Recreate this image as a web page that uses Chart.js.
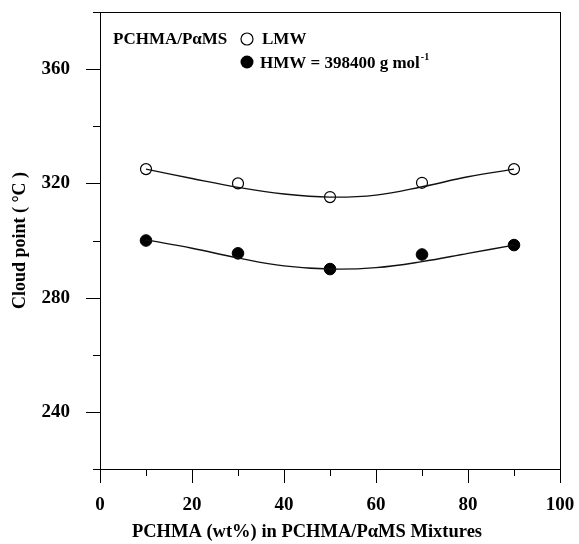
<!DOCTYPE html>
<html>
<head>
<meta charset="utf-8">
<script src="https://cdn.jsdelivr.net/npm/chart.js@4"></script>
<style>
  html, body { margin: 0; padding: 0; background: #fff; }
  #wrap { width: 579px; height: 544px; }
</style>
</head>
<body>
<div id="wrap"><canvas id="chart" width="579" height="544"></canvas></div>
<script>
// PCHMA content (wt%) of the measured blends
const composition = [10, 30, 50, 70, 90];
const lmwCloud = [325, 320, 315.2, 320.2, 325];
const hmwCloud = [300, 295.5, 290, 295.1, 298.4];

// fitted curves
const fitX = [10, 20, 30, 40, 50, 60, 70, 80, 90];
const lmwFit = [325, 321.7, 318.6, 316.3, 315.2, 315.9, 318.8, 322.3, 325];
const hmwFit = [300.2, 297.3, 293.9, 291.1, 290, 290.5, 292.6, 295.5, 298.4];

const xLabels = [0, 20, 40, 60, 80, 100];
const yLabels = [240, 280, 320, 360];

const serif = "'Liberation Serif', 'DejaVu Serif', serif";

const toPoints = (xs, ys) => xs.map((x, i) => ({ x: x, y: ys[i] }));

// frame + ticks drawn by hand: major/minor ticks have different lengths
const framePlugin = {
  id: 'frame',
  afterDraw(chart) {
    const { ctx, chartArea: a, scales } = chart;
    ctx.save();
    ctx.strokeStyle = '#000';
    ctx.lineWidth = 1;
    ctx.strokeRect(a.left + 0.5, a.top + 0.5, a.right - a.left, a.bottom - a.top);

    ctx.beginPath();
    for (let v = 0; v <= 100; v += 10) {
      const px = Math.round(scales.x.getPixelForValue(v)) + 0.5;
      const len = xLabels.includes(v) ? 14 : 7;
      ctx.moveTo(px, a.bottom);
      ctx.lineTo(px, a.bottom + len);
    }
    for (let v = 220; v <= 380; v += 20) {
      const py = Math.round(scales.y.getPixelForValue(v)) + 0.5;
      const len = yLabels.includes(v) ? 14 : 7;
      ctx.moveTo(a.left, py);
      ctx.lineTo(a.left - len, py);
    }
    ctx.stroke();

    ctx.fillStyle = '#000';
    ctx.textBaseline = 'alphabetic';

    // x axis title sits a bit left of the plot centre in the original
    ctx.font = "bold 18.5px " + serif;
    ctx.textAlign = 'center';
    ctx.fillText('PCHMA (wt%) in PCHMA/P\u03b1MS Mixtures', 307, 537);
    ctx.textAlign = 'left';

    // legend block
    ctx.font = "bold 17px " + serif;
    ctx.fillText('PCHMA/P\u03b1MS', 113, 44);
    ctx.fillText('LMW', 262, 44);
    ctx.fillText('HMW = 398400 g mol', 260, 68);
    const w = ctx.measureText('HMW = 398400 g mol').width;
    ctx.font = "bold 10px " + serif;
    ctx.fillText('-1', 260 + w + 1, 60);

    ctx.lineWidth = 1.2;
    ctx.beginPath();
    ctx.arc(247, 39, 6, 0, Math.PI * 2);
    ctx.fillStyle = '#fff';
    ctx.fill();
    ctx.stroke();
    ctx.beginPath();
    ctx.arc(247, 62, 6.5, 0, Math.PI * 2);
    ctx.fillStyle = '#000';
    ctx.fill();
    ctx.restore();
  }
};

new Chart(document.getElementById('chart'), {
  type: 'scatter',
  data: {
    datasets: [
      {
        label: 'LMW fit',
        data: toPoints(fitX, lmwFit),
        showLine: true,
        borderColor: '#111',
        borderWidth: 1.4,
        pointRadius: 0,
        tension: 0.4
      },
      {
        label: 'HMW fit',
        data: toPoints(fitX, hmwFit),
        showLine: true,
        borderColor: '#111',
        borderWidth: 1.4,
        pointRadius: 0,
        tension: 0.4
      },
      {
        label: 'LMW',
        data: toPoints(composition, lmwCloud),
        pointRadius: 5.5,
        pointBorderWidth: 1.2,
        pointBackgroundColor: '#fff',
        pointBorderColor: '#000'
      },
      {
        label: 'HMW = 398400 g mol-1',
        data: toPoints(composition, hmwCloud),
        pointRadius: 5.8,
        pointBorderWidth: 1,
        pointBackgroundColor: '#000',
        pointBorderColor: '#000'
      }
    ]
  },
  options: {
    responsive: false,
    animation: false,
    layout: { padding: { left: 0, right: 19, top: 12, bottom: 0 } },
    scales: {
      x: {
        type: 'linear',
        min: 0,
        max: 100,
        afterFit: scale => {
          scale.height = 75;
          scale.paddingLeft = 0;
          scale.paddingRight = 0;
        },
        grid: { display: false },
        border: { display: false },
        ticks: {
          stepSize: 20,
          padding: 17,
          color: '#000',
          font: { family: serif, size: 19, weight: 'bold' }
        }
      },
      y: {
        min: 220,
        max: 380,
        afterFit: scale => {
          scale.width = 100;
          scale.paddingTop = 0;
          scale.paddingBottom = 0;
        },
        grid: { display: false },
        border: { display: false },
        ticks: {
          stepSize: 20,
          padding: 22,
          color: '#000',
          font: { family: serif, size: 19, weight: 'bold' },
          callback: v => (yLabels.includes(v) ? v : '')
        },
        title: {
          display: true,
          text: 'Cloud point ( \u00b0C )',
          color: '#000',
          padding: { top: 10, bottom: 0 },
          font: { family: serif, size: 18, weight: 'bold' }
        }
      }
    },
    plugins: {
      legend: { display: false },
      tooltip: { enabled: false }
    }
  },
  plugins: [framePlugin]
});
</script>
</body>
</html>
